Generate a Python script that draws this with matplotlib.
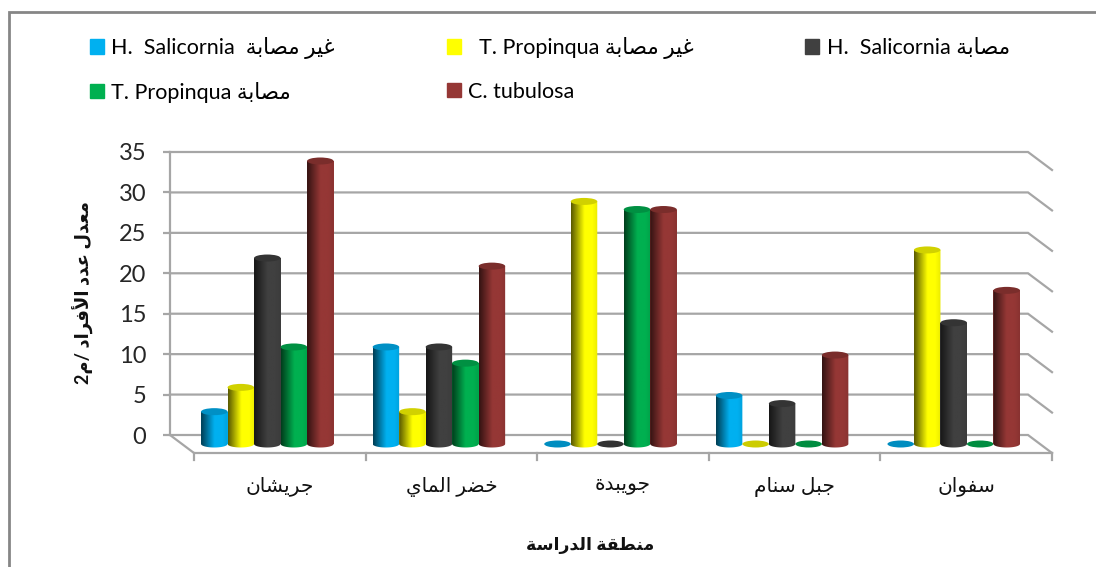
import re
import numpy as np
import matplotlib
matplotlib.use("Agg")
import matplotlib.pyplot as plt
from matplotlib.colors import LinearSegmentedColormap, to_rgb
from matplotlib.patches import Ellipse, Patch, PathPatch, Rectangle
from matplotlib.path import Path
from matplotlib.transforms import Affine2D
from matplotlib.font_manager import FontProperties

# ---------- data ----------
categories = ["جريشان", "خضر الماي", "جويبدة", "جبل سنام", "سفوان"]
series_names = ["H.  Salicornia  غير مصابة", "  T. Propinqua غير مصابة",
                "H.  Salicornia مصابة", "T. Propinqua مصابة", "C. tubulosa"]
h_sal_healthy = [4, 12, 0, 6, 0]
t_pro_healthy = [7, 4, 30, 0, 24]
h_sal_infected = [23, 12, 0, 5, 15]
t_pro_infected = [12, 10, 29, 0, 0]
c_tubulosa = [35, 22, 29, 11, 19]
series_colors = ["#00B0F0", "#FFFF00", "#404040", "#00B050", "#953735"]
y_ticks = [0, 5, 10, 15, 20, 25, 30, 35]
x_title = "منطقة الدراسة"
y_title = "معدل عدد الأفراد /م2"

# ---------- Arabic shaping: matplotlib draws left to right without joining ----------
FORMS = {
    "ا": (0xFE8D, 0xFE8E), "أ": (0xFE83, 0xFE84), "ة": (0xFE93, 0xFE94),
    "د": (0xFEA9, 0xFEAA), "ر": (0xFEAD, 0xFEAE), "و": (0xFEED, 0xFEEE),
    "ب": (0xFE8F, 0xFE90, 0xFE91, 0xFE92), "ت": (0xFE95, 0xFE96, 0xFE97, 0xFE98),
    "ج": (0xFE9D, 0xFE9E, 0xFE9F, 0xFEA0), "خ": (0xFEA5, 0xFEA6, 0xFEA7, 0xFEA8),
    "س": (0xFEB1, 0xFEB2, 0xFEB3, 0xFEB4), "ش": (0xFEB5, 0xFEB6, 0xFEB7, 0xFEB8),
    "ص": (0xFEB9, 0xFEBA, 0xFEBB, 0xFEBC), "ض": (0xFEBD, 0xFEBE, 0xFEBF, 0xFEC0),
    "ط": (0xFEC1, 0xFEC2, 0xFEC3, 0xFEC4), "ع": (0xFEC9, 0xFECA, 0xFECB, 0xFECC),
    "غ": (0xFECD, 0xFECE, 0xFECF, 0xFED0), "ف": (0xFED1, 0xFED2, 0xFED3, 0xFED4),
    "ق": (0xFED5, 0xFED6, 0xFED7, 0xFED8), "ل": (0xFEDD, 0xFEDE, 0xFEDF, 0xFEE0),
    "م": (0xFEE1, 0xFEE2, 0xFEE3, 0xFEE4), "ن": (0xFEE5, 0xFEE6, 0xFEE7, 0xFEE8),
    "ي": (0xFEF1, 0xFEF2, 0xFEF3, 0xFEF4),
}


def shape_run(run):
    run = run.replace("لأ", "\uFEF7")
    out = []
    for i, c in enumerate(run):
        if c not in FORMS:
            out.append(c)
            continue
        prev = run[i - 1] if i else ""
        nxt = run[i + 1] if i + 1 < len(run) else ""
        joins_prev = prev in FORMS and len(FORMS[prev]) == 4
        joins_next = (nxt in FORMS or nxt == "\uFEF7") and len(FORMS[c]) == 4
        f = FORMS[c]
        if joins_prev and joins_next:
            out.append(chr(f[3]))
        elif joins_next:
            out.append(chr(f[2]))
        elif joins_prev:
            out.append(chr(f[1]))
        else:
            out.append(chr(f[0]))
    return "".join(reversed(out))


def ar(text):
    return re.sub(r"[\u0600-\u06FF][\u0600-\u06FF /0-9]*", lambda m: shape_run(m.group(0)), text)


FONT = ["Lato", "DejaVu Sans"]
GRID = "#A6A6A6"
FRAME = "#868686"

fig = plt.figure(figsize=(10.96, 5.67), dpi=100, facecolor="white")
ax = fig.add_axes([170 / 1096, 1 - 435 / 567, 858 / 1096, 283 / 567])
ax.set_facecolor("none")

# ---------- frame ----------
fig.add_artist(Rectangle((9 / 1096, -0.05), 1.2, 1 - 12 / 567 + 0.05, transform=fig.transFigure,
                         fill=False, ec=FRAME, lw=2.0))

# ---------- pseudo 3D walls ----------
DX, DY = 24 / (858 / 5), -18 / (283 / 35)
for v in y_ticks:
    ax.plot([0, 5, 5 + DX], [v, v, v + DY], color=GRID, lw=1.6, clip_on=False, zorder=1,
            solid_joinstyle="miter")
ax.plot([0, 0, DX, 5 + DX], [35, 0, DY, DY], color=GRID, lw=1.6, clip_on=False, zorder=1,
        solid_joinstyle="miter")
for i in range(6):
    ax.plot([i + DX, i + DX], [DY, DY - 7 / (283 / 35)], color=GRID, lw=1.6, clip_on=False, zorder=1)

# ---------- bars ----------
tr = ax.transData + Affine2D().translate(11.5, -9)
bar_w = 26.5 / (858 / 5)
ell_h = 7 / (283 / 35)
all_series = [h_sal_healthy, t_pro_healthy, h_sal_infected, t_pro_infected, c_tubulosa]
for s, (vals, col) in enumerate(zip(all_series, series_colors)):
    rgb = np.array(to_rgb(col))
    cmap = LinearSegmentedColormap.from_list(
        "c", [(0, rgb * 0.35), (0.5, rgb), (0.8, rgb), (1, rgb * 0.92)])
    for c, v in enumerate(vals):
        x = c + 0.5 + (s - 2) * bar_w
        z = 3 + s * 0.1
        if v == 0:
            ax.add_patch(Ellipse((x, 0), bar_w, ell_h, transform=tr, fc=rgb * 0.8, ec="none",
                                 zorder=z, clip_on=False))
            continue
        ax.bar(x, v, width=bar_w, color=col, transform=tr, zorder=z, clip_on=False)
        t = np.linspace(np.pi, 2 * np.pi, 30)
        px = x + bar_w / 2 * np.cos(t)
        py = ell_h / 2 * np.sin(t)
        verts = np.vstack([[x - bar_w / 2, v], np.column_stack([px, py]), [x + bar_w / 2, v],
                           [x - bar_w / 2, v]])
        sil = PathPatch(Path(verts), transform=tr, fc="none", ec="none", zorder=z, clip_on=False)
        ax.add_patch(sil)
        im = ax.imshow(np.linspace(0, 1, 64)[None, :], extent=[x - bar_w / 2, x + bar_w / 2, -ell_h, v],
                       cmap=cmap, vmin=0, vmax=1, aspect="auto", transform=tr, zorder=z + 0.01,
                       interpolation="bilinear")
        im.set_clip_path(sil)
        im.set_clip_box(fig.bbox)
        ax.add_patch(Ellipse((x, v), bar_w, ell_h, transform=tr, fc=rgb * 0.82, ec="none",
                             zorder=z + 0.02, clip_on=False))

# ---------- axes ----------
ax.set_xlim(0, 5)
ax.set_ylim(0, 35)
for sp in ax.spines.values():
    sp.set_visible(False)
ax.set_yticks(y_ticks)
ax.set_yticklabels([str(v) for v in y_ticks], fontsize=17, color="#262626", family=FONT)
ax.tick_params(axis="y", length=5, width=1.6, color=GRID, pad=12)
ax.set_xticks(np.arange(5) + 0.5)
ax.set_xticklabels([ar(c) for c in categories], fontsize=14.5, color="#111111", family=FONT)
ax.tick_params(axis="x", length=0, pad=30)
for lab in ax.get_xticklabels():
    lab.set_transform(lab.get_transform() + Affine2D().translate(24, 0))

fig.text(590 / 1096, 1 - 546 / 567, ar(x_title), ha="center", va="center", fontsize=12.5,
         fontweight="bold", family=FONT, color="#111111")
fig.text(83 / 1096, 1 - 293 / 567, ar(y_title), ha="center", va="center", rotation=90, fontsize=13,
         fontweight="bold", family=FONT, color="#111111")

# ---------- legend ----------
handles = [Patch(color=c) for c in series_colors]
labels = [ar(n) for n in series_names]
order = [0, 3, 1, 4, 2]
ax.legend([handles[i] for i in order], [labels[i] for i in order], ncol=3, loc="upper left",
          bbox_to_anchor=(90 / 1096, 1 - 37 / 567), bbox_transform=fig.transFigure, frameon=False,
          prop=FontProperties(family=FONT, size=15.5), handlelength=0.65, handleheight=0.65,
          handletextpad=0.33, columnspacing=5.2, labelspacing=1.05, borderpad=0, borderaxespad=0)

fig.savefig("out.png", dpi=100)
